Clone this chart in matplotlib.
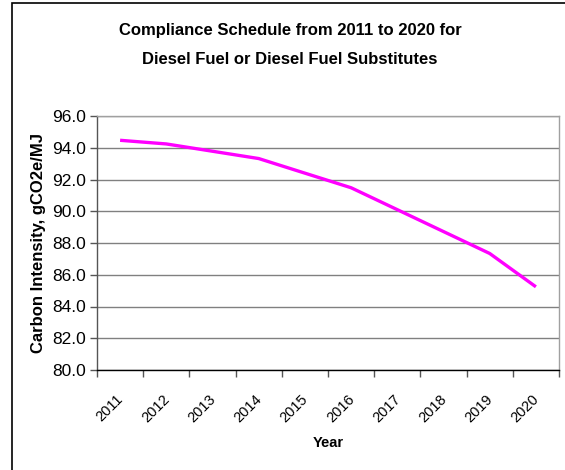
import numpy as np
import matplotlib
matplotlib.use("Agg")
import matplotlib.pyplot as plt
from matplotlib.lines import Line2D
from matplotlib.transforms import ScaledTranslation

years = ["2011", "2012", "2013", "2014", "2015", "2016", "2017", "2018", "2019", "2020"]
carbon_intensity = [94.47, 94.24, 93.78, 93.32, 92.40, 91.48, 90.10, 88.72, 87.34, 85.24]
y_ticks = [80.0, 82.0, 84.0, 86.0, 88.0, 90.0, 92.0, 94.0, 96.0]

plt.rcParams['font.family'] = ['Liberation Sans', 'DejaVu Sans']

W, H = 565, 470
fig = plt.figure(figsize=(W / 100, H / 100), dpi=100)
fig.patch.set_facecolor('white')

L, R, T, B = 97, 559, 116, 370
ax = fig.add_axes([L / W, 1 - B / H, (R - L) / W, (B - T) / H])

x = np.arange(len(years))
ax.plot(x, carbon_intensity, color='#FF00FF', lw=2.4, solid_capstyle='butt', zorder=3)

ax.set_xlim(-0.5, len(years) - 0.5)
ax.set_ylim(y_ticks[0], y_ticks[-1])
ax.set_yticks(y_ticks)
ax.set_yticklabels([f"{v:.1f}" for v in y_ticks], fontsize=12.5)
ax.yaxis.grid(True, color='#808080', lw=1.0)
ax.set_axisbelow(True)

ax.set_xticks(np.arange(-0.5, len(years), 1.0))
ax.set_xticklabels([])
ax.set_xticks(x, minor=True)
ax.set_xticklabels(years, minor=True, rotation=45, ha='right', va='top',
                   rotation_mode='anchor', fontsize=10.5)
ax.tick_params(axis='x', which='minor', length=0, pad=16)
shift = ScaledTranslation(-4 / 100, 0, fig.dpi_scale_trans)
for lab in ax.get_xticklabels(minor=True):
    lab.set_transform(lab.get_transform() + shift)
ax.tick_params(axis='x', which='major', length=5, width=1, color='#555555', direction='out')
ax.tick_params(axis='y', which='major', length=5, width=1, color='#555555', direction='out', pad=3)

for s in ['top', 'right']:
    ax.spines[s].set_color('#A0A0A0')
    ax.spines[s].set_linewidth(1.0)
ax.spines['left'].set_color('#555555')
ax.spines['bottom'].set_color('#000000')
ax.spines['left'].set_linewidth(1.0)
ax.spines['bottom'].set_linewidth(1.0)

ax.set_ylabel("Carbon Intensity, gCO2e/MJ", fontsize=12, fontweight='bold', labelpad=4)
ax.set_xlabel("Year", fontsize=10.5, fontweight='bold', labelpad=8)

fig.text(290 / W, 1 - 31 / H, "Compliance Schedule from 2011 to 2020 for",
         ha='center', va='center', fontsize=12, fontweight='bold')
fig.text(290 / W, 1 - 60 / H, "Diesel Fuel or Diesel Fuel Substitutes",
         ha='center', va='center', fontsize=12, fontweight='bold')

# outer frame: only left and top edges are visible in the reference
fx, fy = 12 / W, 1 - 3 / H
fig.add_artist(Line2D([fx, fx, 1.0], [0.0, fy, fy], transform=fig.transFigure,
                      color='black', lw=1.2, solid_joinstyle='miter'))

fig.savefig("out.png", dpi=100)
